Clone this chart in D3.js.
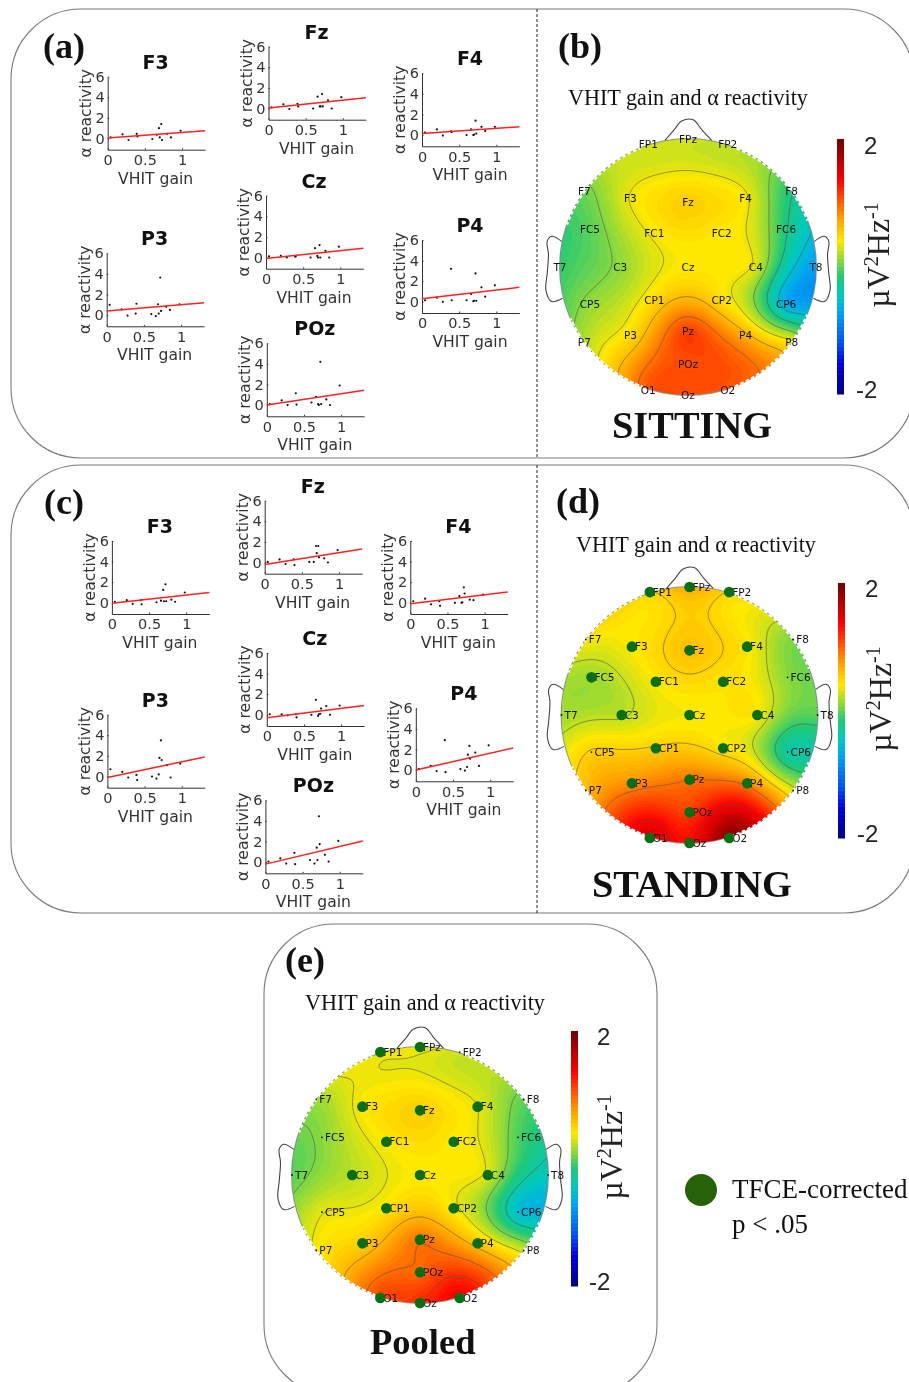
<!DOCTYPE html>
<html>
<head>
<meta charset="utf-8">
<script src="https://cdn.jsdelivr.net/npm/d3@7"></script>
<style>
  html, body { margin: 0; padding: 0; background: #fff; }
  svg { display: block; filter: blur(0.65px); }
  .tick text { font-family: "DejaVu Sans"; }
</style>
</head>
<body>
<div id="chart"></div>
<script>
// VHIT gain of each subject, shared by all the small scatter plots
const gain = [0.04, 0.2, 0.28, 0.39, 0.4, 0.6, 0.66, 0.69, 0.7, 0.72, 0.73, 0.8, 0.85, 0.98];

// alpha reactivity, sitting
const sitF3 = [0.1, 0.4, -0.15, 0.45, 0.2, -0.05, 0.35, 1.0, 0.1, 1.4, -0.15, 0.45, 0.1, 0.75];
const sitFz = [0.1, 0.4, -0.05, 0.45, 0.2, 0, 1.15, 0.2, 0.2, 1.4, 0.2, 0.8, 0, 1.1];
const sitF4 = [0.25, 0.55, -0.05, 0.35, 0.3, 0, 0.55, 0, 0.05, 1.4, 0.15, 0.8, 0.4, 0.8];
const sitCz = [0.1, 0.15, 0, 0.1, 0.1, 0, 0.9, 0.15, 0, 1.2, 0, 0.65, 0, 1.05];
const sitP3 = [1.0, 0.55, -0.05, 0.15, 1.1, 0.1, -0.1, 1.05, 0.15, 3.65, 0.4, 0.8, 0.5, 1.05];
const sitP4 = [0.15, 0.4, 0, 3.2, 0.15, 0.15, 0.75, 0.05, 0.1, 2.75, 0.1, 1.4, 0.5, 1.6];
const sitPOz = [0.1, 0.45, 0, 1.15, 0.05, 0.25, 0.8, 0.1, 0, 4.2, 0.1, 0.55, 0, 1.9];

// alpha reactivity, standing
const standF3 = [0.1, 0.25, -0.1, 0.25, -0.15, 0.05, 0.2, 1.25, 0.15, 1.8, 0.15, 0.3, 0.1, 1.0];
const standFz = [0.05, 0.3, -0.15, 0.3, -0.25, 0.05, 0.05, 1.6, 0.9, 1.6, 0.5, 0.4, 0, 1.2];
const standF4 = [0.15, 0.4, -0.15, 0.15, -0.3, 0, 0.65, 0, 0.05, 1.5, 0.9, 0.3, 0.25, 0.8];
const standCz = [0.05, 0.05, -0.05, 0.05, -0.25, 0, 1.45, -0.1, 0.05, 0.1, 0.6, 0.85, 0, 0.9];
const standP3 = [0.7, 0.45, -0.1, 0.15, -0.35, 0, -0.2, 0.2, 1.8, 3.5, 1.6, 1.1, -0.1, 1.25];
const standP4 = [0.1, 0.4, -0.1, 2.9, -0.2, 0.1, -0.05, 0.3, 1.5, 2.35, 1.1, 1.7, 0.4, 2.4];
const standPOz = [0.05, 0.35, -0.15, 0.9, -0.2, 0.2, -0.15, 1.4, 0.2, 4.45, 1.75, 0.7, 0.05, 2.05];

// fit line ends [y at gain 0, y at gain 1.31], same order as the titles below
const plotTitles = ['F3', 'Fz', 'F4', 'Cz', 'P3', 'P4', 'POz'];
const sitFits = [[0.05, 0.75], [0.05, 1.05], [0.15, 0.8], [-0.1, 0.9], [0.4, 1.2], [0.3, 1.4], [0, 1.45]];
const standFits = [[-0.05, 1.0], [-0.2, 1.3], [-0.1, 1.05], [-0.3, 0.9], [-0.1, 1.9], [0, 2.15], [-0.2, 2.05]];

const xTicks = [0, 0.5, 1];
const yTicks = [0, 2, 4, 6];

// electrodes on the unit head circle
const electrodes = ['FP1', 'FPz', 'FP2', 'F7', 'F3', 'Fz', 'F4', 'F8', 'FC5', 'FC1', 'FC2', 'FC6', 'T7', 'C3', 'Cz', 'C4', 'T8', 'CP5', 'CP1', 'CP2', 'CP6', 'P7', 'P3', 'Pz', 'P4', 'P8', 'POz', 'O1', 'Oz', 'O2'];
const elecX = [-0.31, 0, 0.31, -0.81, -0.45, 0, 0.45, 0.81, -0.766, -0.263, 0.263, 0.766, -1, -0.53, 0, 0.53, 1, -0.766, -0.263, 0.263, 0.766, -0.81, -0.45, 0, 0.45, 0.81, 0, -0.31, 0, 0.31];
const elecY = [0.96, 1, 0.96, 0.59, 0.534, 0.505, 0.534, 0.59, 0.294, 0.26, 0.26, 0.294, 0, 0, 0, 0, 0, -0.29, -0.26, -0.26, -0.29, -0.59, -0.534, -0.505, -0.534, -0.59, -0.76, -0.96, -1, -0.96];

// correlation map value at each electrode, same order as electrodes
const sitValues = [0.3, 0.3, 0.25, 0.05, 0.38, 0.55, 0.4, -0.18, 0, 0.4, 0.42, -0.18, -0.1, 0.14, 0.42, 0.32, -0.72, 0.15, 0.5, 0.47, -0.62, 0.22, 0.48, 1.15, 0.7, 0.42, 1.08, 1.05, 1.08, 1.05];
const standValues = [0.52, 0.72, 0.52, 0.42, 0.42, 0.62, 0.44, 0.1, 0.18, 0.42, 0.45, 0.12, 0.18, 0.25, 0.4, 0.42, 0, 0.55, 0.55, 0.45, -0.3, 0.65, 0.85, 0.95, 0.9, 0.35, 1.15, 1.55, 1.35, 1.9];
const pooledValues = [0.4, 0.4, 0.3, 0.18, 0.42, 0.55, 0.36, 0.02, 0.12, 0.42, 0.42, -0.03, 0, 0.25, 0.42, 0.32, -0.4, 0.35, 0.45, 0.4, -0.5, 0.4, 0.55, 0.95, 0.6, 0.3, 1.0, 1.1, 1.2, 1.4];

const standSig = ['FP1', 'FPz', 'FP2', 'F3', 'Fz', 'F4', 'FC5', 'FC1', 'FC2', 'C3', 'Cz', 'C4', 'CP1', 'CP2', 'P3', 'Pz', 'P4', 'POz', 'O1', 'Oz', 'O2'];
const pooledSig = ['FP1', 'FPz', 'F3', 'Fz', 'F4', 'FC1', 'FC2', 'C3', 'Cz', 'C4', 'CP1', 'CP2', 'P3', 'Pz', 'P4', 'POz', 'O1', 'Oz', 'O2'];

const sitLevels = [-0.5, -0.2, 0.1, 0.37, 0.65, 0.95];
const standLevels = [-0.1, 0.27, 0.53, 0.95, 1.4];
const pooledLevels = [-0.3, 0.08, 0.36, 0.68, 0.97, 1.22];
const colorStops = [0, 0.12, 0.2, 0.33, 0.39, 0.46, 0.54, 0.6, 0.69, 0.84, 1];
const colorValues = ['#000080', '#0000e0', '#0050f0', '#00a8f0', '#00c8c0', '#20c878', '#a0dc30', '#ffe800', '#ffa000', '#ff0000', '#700000'];

const width = 909;
const height = 1382;
const plotW = 97.4;
const plotH = 73;

const svg = d3.select('#chart').append('svg')
  .attr('width', width)
  .attr('height', height)
  .attr('viewBox', `0 0 ${width} ${height}`);

const jet = d3.scaleLinear().domain(colorStops).range(colorValues);
const colorOf = (v) => jet((v + 2) / 4);

function drawPanels() {
  const panels = [[11, 9, 903, 449], [11, 465, 903, 448], [264, 924, 393, 471]];
  svg.append('g').selectAll('rect').data(panels).join('rect')
    .attr('x', (d) => d[0]).attr('y', (d) => d[1])
    .attr('width', (d) => d[2]).attr('height', (d) => d[3])
    .attr('rx', 70).attr('ry', 70)
    .attr('fill', 'none').attr('stroke', '#7a7a7a').attr('stroke-width', 1.1);

  svg.append('g').selectAll('line').data([[9, 458], [465, 913]]).join('line')
    .attr('x1', 537).attr('x2', 537)
    .attr('y1', (d) => d[0]).attr('y2', (d) => d[1])
    .attr('stroke', '#222').attr('stroke-dasharray', '3 2');

  const letters = [['(a)', 43, 58], ['(b)', 558, 58], ['(c)', 44, 514], ['(d)', 556, 513], ['(e)', 285, 972]];
  svg.append('g').selectAll('text').data(letters).join('text')
    .attr('x', (d) => d[1]).attr('y', (d) => d[2])
    .attr('font-family', 'Liberation Serif').attr('font-weight', 'bold').attr('font-size', 36)
    .attr('fill', '#111')
    .text((d) => d[0]);
}

function drawScatter(title, x0, top, values, fit) {
  const x = d3.scaleLinear().domain([0, 1.31]).range([x0, x0 + plotW]);
  const y = d3.scaleLinear().domain([6, -1.09]).range([top, top + plotH]);
  const g = svg.append('g');

  g.append('text')
    .attr('x', x0 + 48).attr('y', top - 8)
    .attr('text-anchor', 'middle')
    .attr('font-family', 'DejaVu Sans').attr('font-weight', 'bold').attr('font-size', 19)
    .attr('fill', '#111')
    .text(title);

  const xAxis = g.append('g')
    .attr('transform', `translate(0, ${top + plotH})`)
    .call(d3.axisBottom(x).tickValues(xTicks).tickFormat(d3.format('')).tickSizeInner(-1.5).tickSizeOuter(0).tickPadding(5));
  const yAxis = g.append('g')
    .attr('transform', `translate(${x0}, 0)`)
    .call(d3.axisLeft(y).tickValues(yTicks).tickSizeInner(-1.5).tickSizeOuter(0).tickPadding(3));
  [xAxis, yAxis].forEach((a) => {
    a.selectAll('text').attr('font-size', 14.5).attr('fill', '#333');
    a.selectAll('path,line').attr('stroke', '#333');
  });

  g.append('text')
    .attr('x', x0 + 48).attr('y', top + plotH + 34)
    .attr('text-anchor', 'middle')
    .attr('font-family', 'DejaVu Sans').attr('font-size', 15.6).attr('fill', '#333')
    .text('VHIT gain');
  g.append('text')
    .attr('transform', `translate(${x0 - 17}, ${top + plotH / 2}) rotate(-90)`)
    .attr('text-anchor', 'middle')
    .attr('font-family', 'DejaVu Sans').attr('font-size', 15.6).attr('fill', '#333')
    .text('α reactivity');

  g.append('g').selectAll('circle').data(values).join('circle')
    .attr('cx', (d, i) => x(gain[i]))
    .attr('cy', (d) => y(d))
    .attr('r', 1.1)
    .attr('fill', '#111');

  g.append('line')
    .attr('x1', x(0)).attr('y1', y(fit[0]))
    .attr('x2', x(1.31)).attr('y2', y(fit[1]))
    .attr('stroke', '#ff2020').attr('stroke-width', 1.5);
}

// biharmonic spline through the electrode values, same as griddata v4
function solve(A, b) {
  const n = b.length;
  const M = A.map((row, i) => [...row, b[i]]);
  for (let c = 0; c < n; c++) {
    let p = c;
    for (let r = c + 1; r < n; r++) if (Math.abs(M[r][c]) > Math.abs(M[p][c])) p = r;
    [M[c], M[p]] = [M[p], M[c]];
    for (let r = c + 1; r < n; r++) {
      const f = M[r][c] / M[c][c];
      for (let k = c; k <= n; k++) M[r][k] -= f * M[c][k];
    }
  }
  const w = new Array(n).fill(0);
  for (let r = n - 1; r >= 0; r--) {
    let s = M[r][n];
    for (let k = r + 1; k < n; k++) s -= M[r][k] * w[k];
    w[r] = s / M[r][r];
  }
  return w;
}

function green(dx, dy) {
  const r2 = dx * dx + dy * dy;
  return r2 < 1e-12 ? 0 : r2 * (0.5 * Math.log(r2) - 1);
}

const clipIds = [];

function drawMap(cx, cy, values, levels, sigList, centerLabels) {
  const r = 128;
  const n = 211;
  const span = 1.06;
  const id = 'head' + clipIds.length;
  clipIds.push(id);

  const weights = solve(
    elecX.map((xa, i) => elecX.map((xb, j) => green(xa - xb, elecY[i] - elecY[j]))),
    values
  );
  const gx = d3.scaleLinear().domain([0, n - 1]).range([-span, span]);
  const gy = d3.scaleLinear().domain([0, n - 1]).range([span, -span]);
  const grid = new Float64Array(n * n);
  for (let j = 0; j < n; j++) {
    for (let i = 0; i < n; i++) {
      let s = 0;
      for (let k = 0; k < weights.length; k++) s += weights[k] * green(gx(i) - elecX[k], gy(j) - elecY[k]);
      grid[j * n + i] = s;
    }
  }

  const px = d3.scaleLinear().domain([-1, 1]).range([cx - r, cx + r]);
  const py = d3.scaleLinear().domain([-1, 1]).range([cy + r, cy - r]);
  const path = d3.geoPath(d3.geoTransform({
    point(a, b) { this.stream.point(px(gx(a - 0.5)), py(gy(b - 0.5))); }
  }));

  svg.append('clipPath').attr('id', id).append('circle')
    .attr('cx', cx).attr('cy', cy).attr('r', r);
  const g = svg.append('g').attr('clip-path', `url(#${id})`);
  const fills = d3.range(-2, 2.001, 0.04);
  g.selectAll('path.fill')
    .data(d3.contours().size([n, n]).thresholds(fills)(grid))
    .join('path')
    .attr('class', 'fill')
    .attr('d', path)
    .attr('fill', (d) => colorOf(d.value));
  g.selectAll('path.level')
    .data(d3.contours().size([n, n]).thresholds(levels)(grid))
    .join('path')
    .attr('class', 'level')
    .attr('d', path)
    .attr('fill', 'none')
    .attr('stroke', '#555')
    .attr('stroke-opacity', 0.85)
    .attr('stroke-width', 0.7);

  // head outline, nose and ears
  const outline = d3.line().x((d) => px(d[0])).y((d) => py(d[1])).curve(d3.curveCatmullRom);
  const head = svg.append('g').attr('fill', 'none').attr('stroke', '#444').attr('stroke-width', 1.1);
  head.append('circle').attr('cx', cx).attr('cy', cy).attr('r', r + 0.5).attr('stroke', '#8a8a8a').attr('stroke-width', 0.9);
  head.append('path').attr('d', outline(noseShape));
  head.append('path').attr('d', outline(earShape));
  head.append('path').attr('d', outline(earShape.map((d) => [-d[0], d[1]])));

  // the white nicks on the diagonal parts of the rim
  const rim = d3.arc().innerRadius(r).outerRadius(r);
  const nicks = svg.append('g').attr('transform', `translate(${cx}, ${cy})`)
    .attr('fill', 'none').attr('stroke', '#fff').attr('stroke-width', 2).attr('stroke-dasharray', '2.5 3.5');
  [[0.35, 1.2], [1.95, 2.8], [3.5, 4.3], [5.05, 5.9]].forEach((a) => {
    nicks.append('path').attr('d', rim({ startAngle: a[0], endAngle: a[1] }));
  });

  // electrodes
  const labels = svg.append('g');
  electrodes.forEach((name, i) => {
    const sig = sigList.includes(name);
    if (!centerLabels && !sig) {
      labels.append('circle').attr('cx', px(elecX[i])).attr('cy', py(elecY[i])).attr('r', 0.9).attr('fill', '#111');
    }
    labels.append('text')
      .attr('x', centerLabels ? px(elecX[i]) : px(elecX[i]) + 3)
      .attr('y', py(elecY[i]) + 3.7)
      .attr('text-anchor', centerLabels ? 'middle' : 'start')
      .attr('font-family', 'DejaVu Sans').attr('font-size', 10.5).attr('fill', '#111')
      .text(name);
  });
  labels.selectAll('circle.sig')
    .data(electrodes.map((name, i) => [name, i]).filter((d) => sigList.includes(d[0])))
    .join('circle')
    .attr('class', 'sig')
    .attr('cx', (d) => px(elecX[d[1]]))
    .attr('cy', (d) => py(elecY[d[1]]))
    .attr('r', 5.3)
    .attr('fill', '#0a6e14');
}

const noseShape = [[-0.18, 0.99], [-0.11, 1.07], [-0.05, 1.14], [0.04, 1.15], [0.11, 1.07], [0.185, 0.99]];
const earShape = [[-0.987, 0.2], [-1.065, 0.24], [-1.1, 0.2], [-1.09, 0.1], [-1.1, -0.05], [-1.11, -0.18], [-1.066, -0.27], [-0.98, -0.245]];

function drawColorbar(x, top, bottom, tickX, tickY2, tickYm2, labelX, labelY) {
  const y = d3.scaleLinear().domain([-2, 2]).range([bottom, top]);
  const steps = d3.range(-2, 2, 0.0625);
  svg.append('g').selectAll('rect').data(steps).join('rect')
    .attr('x', x).attr('width', 7)
    .attr('y', (d) => y(d + 0.0625))
    .attr('height', (d) => y(d) - y(d + 0.0625) + 0.5)
    .attr('fill', (d) => colorOf(d + 0.03));

  const ticks = [['2', tickX, tickY2], ['-2', tickX - 8, tickYm2]];
  svg.append('g').selectAll('text').data(ticks).join('text')
    .attr('x', (d) => d[1]).attr('y', (d) => d[2])
    .attr('font-family', 'Liberation Sans').attr('font-size', 24).attr('fill', '#222')
    .text((d) => d[0]);

  const label = svg.append('text')
    .attr('transform', `translate(${labelX}, ${labelY}) rotate(-90)`)
    .attr('text-anchor', 'middle')
    .attr('font-family', 'Liberation Serif').attr('font-size', 32).attr('fill', '#222');
  label.append('tspan').text('µV');
  label.append('tspan').attr('font-size', 20).attr('dy', -11).text('2');
  label.append('tspan').attr('dy', 11).text('Hz');
  label.append('tspan').attr('font-size', 20).attr('dy', -11).text('-1');
}

function drawCaption(text, x, y, size, bold) {
  svg.append('text')
    .attr('x', x).attr('y', y)
    .attr('font-family', 'Liberation Serif')
    .attr('font-weight', bold ? 'bold' : 'normal')
    .attr('font-size', size)
    .attr('fill', '#111')
    .text(text);
}

drawPanels();

// x of the y axis and y of the axis top for the plots, same order as plotTitles
const sitLayout = [[107.7, 76.7], [268.5, 46.7], [422, 73.3], [266, 195.7], [106.7, 253.3], [422, 240], [266.8, 343.3]];
const standLayout = [[111.9, 541], [264.7, 500.7], [410.3, 541], [266.8, 653], [107.4, 714.7], [415.8, 708.3], [265.4, 800.3]];
const sitSeries = [sitF3, sitFz, sitF4, sitCz, sitP3, sitP4, sitPOz];
const standSeries = [standF3, standFz, standF4, standCz, standP3, standP4, standPOz];

plotTitles.forEach((t, i) => {
  drawScatter(t, sitLayout[i][0], sitLayout[i][1], sitSeries[i], sitFits[i]);
  drawScatter(t, standLayout[i][0], standLayout[i][1], standSeries[i], standFits[i]);
});

drawMap(688, 267, sitValues, sitLevels, [], true);
drawMap(689.5, 715, standValues, standLevels, standSig, false);
drawMap(420, 1175, pooledValues, pooledLevels, pooledSig, false);

drawColorbar(837, 139, 394, 864, 154, 398, 889, 255);
drawColorbar(838, 583, 838, 865, 597, 842, 891, 699);
drawColorbar(571, 1031, 1286, 597, 1045, 1290, 622, 1147);

drawCaption('VHIT gain and α reactivity', 568, 105, 22.15);
drawCaption('VHIT gain and α reactivity', 576, 552, 22.15);
drawCaption('VHIT gain and α reactivity', 305, 1010, 22.15);
drawCaption('SITTING', 612, 438, 38.4, true);
drawCaption('STANDING', 592, 897, 38.4, true);
drawCaption('Pooled', 370, 1354, 36.5, true);

// legend
svg.append('circle').attr('cx', 701).attr('cy', 1190).attr('r', 16).attr('fill', '#256208');
drawCaption('TFCE-corrected', 732, 1198, 27);
drawCaption('p < .05', 732, 1233, 27);
</script>
</body>
</html>
